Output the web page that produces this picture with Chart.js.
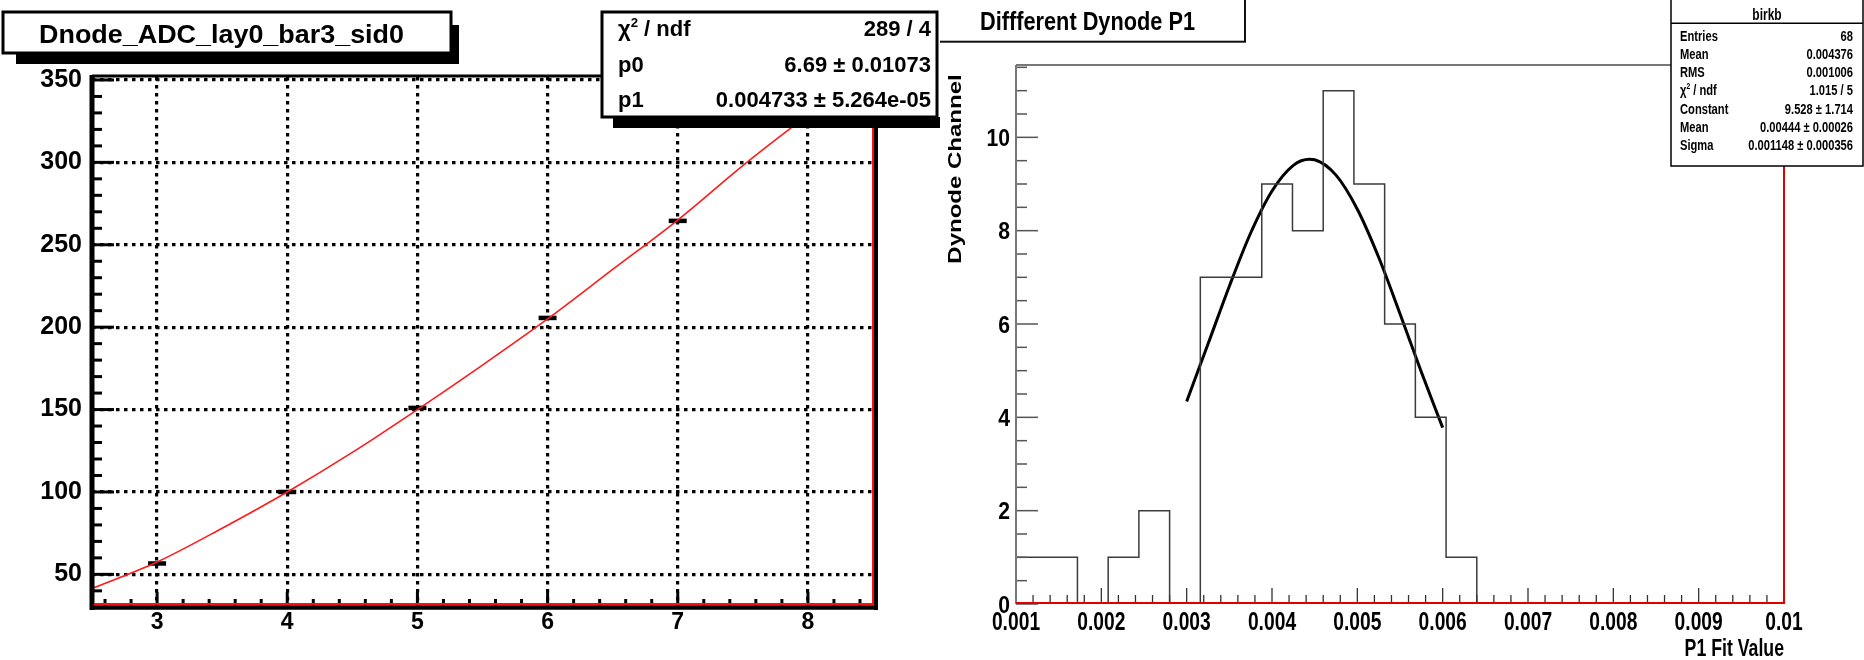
<!DOCTYPE html>
<html>
<head>
<meta charset="UTF-8">
<title>Dnode ADC / Different Dynode P1</title>
<script src="https://cdn.jsdelivr.net/npm/chart.js"></script>
<style>
    body { margin: 0; background: #fff; width: 1864px; height: 660px; overflow: hidden; position: relative; }
    canvas { position: absolute; top: 0; }
    #adcChart { left: 0; }
    #p1Chart { left: 940px; }
</style>
</head>
<body>
<canvas id="adcChart" width="940" height="660"></canvas>
<canvas id="p1Chart" width="924" height="660"></canvas>
<script>
// ---- left pad: ADC vs dynode ----
const adcX = [3, 4, 5, 6, 7, 8];
const adcY = [56.6, 100, 151, 205.6, 264.5, 328];
const fitX = [2.5, 3, 3.5, 4, 4.5, 5, 5.5, 6, 6.5, 7, 7.5, 8, 8.5];
const fitY = [41.4, 57.5, 78, 100, 124, 150, 177, 205, 235, 265, 298, 329, 361];
const adcXTicks = [3, 4, 5, 6, 7, 8];
const adcYTicks = [50, 100, 150, 200, 250, 300, 350];
const adcTitle = 'Dnode_ADC_lay0_bar3_sid0';
const adcStats = [['χ² / ndf', '289 / 4'], ['p0', '6.69 ± 0.01073'], ['p1', '0.004733 ± 5.264e-05']];

// ---- right pad: histogram of P1 ----
const binLow = [0.001, 0.00136, 0.00172, 0.00208, 0.00244, 0.0028, 0.00316, 0.00352, 0.00388, 0.00424,
                0.0046, 0.00496, 0.00532, 0.00568, 0.00604, 0.0064, 0.00676, 0.00712, 0.00748, 0.00784,
                0.0082, 0.00856, 0.00892, 0.00928, 0.00964];
const binCounts = [1, 1, 0, 1, 2, 0, 7, 7, 9, 8, 11, 9, 6, 4, 1, 0, 0, 0, 0, 0, 0, 0, 0, 0, 0];
const histEnd = 0.01;
const gausX = [0.003, 0.00325, 0.0035, 0.00375, 0.004, 0.00425, 0.00444, 0.0045, 0.00475, 0.005, 0.00525, 0.0055, 0.00575, 0.006];
const gausY = [4.34, 5.57, 6.81, 7.95, 8.85, 9.40, 9.53, 9.52, 9.19, 8.46, 7.43, 6.22, 4.97, 3.78];
const p1Ticks = [0.001, 0.002, 0.003, 0.004, 0.005, 0.006, 0.007, 0.008, 0.009, 0.01];
const p1TickLabels = ['0.001', '0.002', '0.003', '0.004', '0.005', '0.006', '0.007', '0.008', '0.009', '0.01'];
const countTicks = [0, 2, 4, 6, 8, 10];
const histTitle = 'Diffferent Dynode P1';
const histName = 'birkb';
const histStats = [['Entries', '68'], ['Mean', '0.004376'], ['RMS', '0.001006'], ['χ² / ndf', '1.015 / 5'],
                   ['Constant', '9.528 ± 1.714'], ['Mean', '0.00444 ± 0.00026'], ['Sigma', '0.001148 ± 0.000356']];

const FAM = '"Liberation Sans", Arial, Helvetica, sans-serif';

// text with optional horizontal squeeze, handles the chi^2 superscript
function label(ctx, s, x, y, size, align, sx) {
    let parts = [[s, size, 0]];
    if (s.startsWith('χ²')) parts = [['χ', size, 0], ['2', size * 0.6, -size * 0.42], [s.slice(2), size, 0]];
    ctx.save();
    ctx.translate(x, y);
    ctx.scale(sx || 1, 1);
    ctx.textAlign = 'left';
    ctx.textBaseline = 'alphabetic';
    ctx.fillStyle = '#000';
    let total = 0;
    parts.forEach(p => { ctx.font = 'bold ' + p[1] + 'px ' + FAM; total += ctx.measureText(p[0]).width; });
    let cx = align === 'right' ? -total : (align === 'center' ? -total / 2 : 0);
    parts.forEach(p => {
        ctx.font = 'bold ' + p[1] + 'px ' + FAM;
        ctx.fillText(p[0], cx, p[2]);
        cx += ctx.measureText(p[0]).width;
    });
    ctx.restore();
}

function fitLabel(ctx, s, x, y, size, width) {
    ctx.font = 'bold ' + size + 'px ' + FAM;
    const w = ctx.measureText(s).width;
    label(ctx, s, x, y, size, 'left', width / w);
}

function line(ctx, x1, y1, x2, y2, color, w) {
    ctx.beginPath();
    ctx.strokeStyle = color;
    ctx.lineWidth = w;
    ctx.moveTo(x1, y1);
    ctx.lineTo(x2, y2);
    ctx.stroke();
}

// ---------------- left chart ----------------
const adcFrame = {
    id: 'adcFrame',
    afterDraw(chart) {
        const ctx = chart.ctx, a = chart.chartArea;
        const xs = chart.scales.x, ys = chart.scales.y;
        ctx.save();
        // minor / major ticks
        for (let v = 40; v <= 350; v += 10) {
            const py = ys.getPixelForValue(v);
            const len = v % 50 === 0 ? 22 : 10;
            line(ctx, a.left, py, a.left + len, py, '#000', 3);
        }
        for (let i = 13; i <= 42; i++) {
            const v = i / 5;
            const px = xs.getPixelForValue(v);
            const len = i % 5 === 0 ? 14 : 7;
            line(ctx, px, a.bottom, px, a.bottom - len, '#000', 3);
        }
        // frame
        line(ctx, a.left, a.top - 1, a.right + 4, a.top - 1, '#000', 3);
        line(ctx, a.left, a.top - 2, a.left, a.bottom + 4, '#000', 5);
        line(ctx, a.left - 2, a.bottom + 1.5, a.right + 5, a.bottom + 1.5, '#000', 4.5);
        line(ctx, a.right + 3, a.top, a.right + 3, a.bottom + 4, '#000', 4);
        line(ctx, a.left + 2, a.bottom - 2, a.right, a.bottom - 2, '#ff1010', 2.2);
        line(ctx, a.right, a.top, a.right, a.bottom - 1, '#ff1010', 2);

        // stats box
        ctx.fillStyle = '#000';
        ctx.fillRect(613, 117, 340, 11);
        ctx.fillStyle = '#fff';
        ctx.fillRect(602, 12, 335, 105);
        ctx.strokeStyle = '#000';
        ctx.lineWidth = 3;
        ctx.strokeRect(602, 12, 335, 105);
        const rowsY = [36, 72, 107];
        adcStats.forEach((r, i) => {
            label(ctx, r[0], 618, rowsY[i], 22, 'left', 1);
            label(ctx, r[1], 931, rowsY[i], 22, 'right', 1);
        });

        // title box
        ctx.fillStyle = '#000';
        ctx.fillRect(16, 53, 443, 11);
        ctx.fillRect(451, 25, 8, 39);
        ctx.fillStyle = '#fff';
        ctx.fillRect(3, 12, 448, 41);
        ctx.lineWidth = 3;
        ctx.strokeRect(3, 12, 448, 41);
        fitLabel(ctx, adcTitle, 39, 43, 26, 365);
        ctx.restore();
    }
};

new Chart(document.getElementById('adcChart'), {
    type: 'scatter',
    data: {
        datasets: [{
            type: 'line',
            data: fitX.map((x, i) => ({ x: x, y: fitY[i] })),
            borderColor: '#ff1a1a',
            borderWidth: 1.6,
            pointRadius: 0,
            cubicInterpolationMode: 'monotone'
        }, {
            data: adcX.map((x, i) => ({ x: x, y: adcY[i] })),
            pointStyle: 'line',
            pointRadius: 9,
            pointBorderWidth: 4.5,
            pointBorderColor: '#000',
            pointBackgroundColor: '#000',
            showLine: false
        }]
    },
    options: {
        responsive: false,
        animation: false,
        events: [],
        layout: { padding: { left: 0, right: 67, top: 77, bottom: 0 } },
        plugins: { legend: { display: false }, tooltip: { enabled: false } },
        scales: {
            x: {
                type: 'linear', min: 2.5, max: 8.5,
                afterBuildTicks: s => { s.ticks = adcXTicks.map(v => ({ value: v })); },
                afterFit: s => { s.height = 54; },
                grid: { color: '#000', lineWidth: 3.2, drawTicks: false },
                border: { display: false, dash: [3.5, 4.5] },
                ticks: { color: '#000', padding: 3, maxRotation: 0, font: { family: FAM, size: 23, weight: 'bold' } }
            },
            y: {
                type: 'linear', min: 30.8, max: 351.8,
                afterBuildTicks: s => { s.ticks = adcYTicks.map(v => ({ value: v })); },
                afterFit: s => { s.width = 92; },
                grid: { color: '#000', lineWidth: 3.2, drawTicks: false },
                border: { display: false, dash: [3.5, 4.5] },
                ticks: { color: '#000', padding: 10, font: { family: FAM, size: 25, weight: 'bold' } }
            }
        }
    },
    plugins: [adcFrame]
});

// ---------------- right chart ----------------
const SQ = 0.77;   // right pad text is squeezed horizontally
const p1Frame = {
    id: 'p1Frame',
    afterDraw(chart) {
        const ctx = chart.ctx, a = chart.chartArea;
        const xs = chart.scales.x, ys = chart.scales.y;
        ctx.save();
        // y ticks
        for (let i = 0; i <= 23; i++) {
            const v = i / 2;
            const py = ys.getPixelForValue(v);
            line(ctx, a.left, py, a.left + (i % 4 === 0 ? 22 : 11), py, '#555', 1.5);
        }
        countTicks.forEach(v => {
            label(ctx, String(v), a.left - 6, ys.getPixelForValue(v) + 8.5, 23, 'right', 0.92);
        });
        // x ticks
        for (let i = 5; i <= 50; i++) {
            const px = xs.getPixelForValue(i / 5000);
            line(ctx, px, a.bottom, px, a.bottom - (i % 5 === 0 ? 16 : 9), '#333', 1.3);
        }
        p1Ticks.forEach((v, i) => {
            label(ctx, p1TickLabels[i], xs.getPixelForValue(v), 630, 25, 'center', SQ);
        });
        // frame
        line(ctx, a.left, a.top, a.right, a.top, '#777', 2);
        line(ctx, a.left, a.top, a.left, a.bottom, '#777', 2);
        line(ctx, a.left, a.bottom - 1, a.right, a.bottom - 1, '#e00000', 2);
        line(ctx, a.right, a.top, a.right, a.bottom, '#e00000', 2);

        // axis titles
        label(ctx, 'P1 Fit Value', a.right, 656, 23, 'right', SQ);
        ctx.save();
        ctx.translate(21, 169);
        ctx.rotate(-Math.PI / 2);
        ctx.scale(1, SQ);
        label(ctx, 'Dynode Channel', 0, 0, 24, 'center', 1);
        ctx.restore();

        // title box
        ctx.fillStyle = '#fff';
        ctx.fillRect(-5, -5, 310, 46.7);
        ctx.strokeStyle = '#111';
        ctx.lineWidth = 2;
        ctx.strokeRect(-5, -5, 310, 46.7);
        fitLabel(ctx, histTitle, 40, 29.5, 25, 215);

        // stats box
        ctx.fillStyle = '#fff';
        ctx.fillRect(731, -2, 192, 168);
        ctx.strokeStyle = '#000';
        ctx.lineWidth = 1.5;
        ctx.strokeRect(731, -2, 192, 168);
        line(ctx, 731, 23.3, 923, 23.3, '#000', 1.5);
        label(ctx, histName, 827, 20, 16, 'center', 0.75);
        histStats.forEach((r, i) => {
            const by = 40.7 + i * 18.2;
            label(ctx, r[0], 740, by, 15.5, 'left', 0.72);
            label(ctx, r[1], 913, by, 15.5, 'right', 0.72);
        });
        ctx.restore();
    }
};

const histPoints = binLow.map((x, i) => ({ x: x, y: binCounts[i] }));
histPoints.push({ x: histEnd, y: 0 });

new Chart(document.getElementById('p1Chart'), {
    type: 'line',
    data: {
        datasets: [{
            data: histPoints,
            stepped: true,
            borderColor: '#3c3c3c',
            borderWidth: 1.5,
            pointRadius: 0
        }, {
            data: gausX.map((x, i) => ({ x: x, y: gausY[i] })),
            borderColor: '#000',
            borderWidth: 3,
            pointRadius: 0,
            cubicInterpolationMode: 'monotone'
        }]
    },
    options: {
        responsive: false,
        animation: false,
        events: [],
        layout: { padding: { left: 0, right: 80, top: 65, bottom: 0 } },
        plugins: { legend: { display: false }, tooltip: { enabled: false } },
        scales: {
            x: {
                type: 'linear', min: 0.001, max: 0.01,
                afterBuildTicks: s => { s.ticks = p1Ticks.map(v => ({ value: v })); },
                afterFit: s => { s.height = 56; },
                grid: { display: false },
                border: { display: false },
                ticks: { display: false }
            },
            y: {
                type: 'linear', min: 0, max: 11.55,
                afterBuildTicks: s => { s.ticks = countTicks.map(v => ({ value: v })); },
                afterFit: s => { s.width = 76; },
                grid: { display: false },
                border: { display: false },
                ticks: { display: false }
            }
        }
    },
    plugins: [p1Frame]
});
</script>
</body>
</html>
